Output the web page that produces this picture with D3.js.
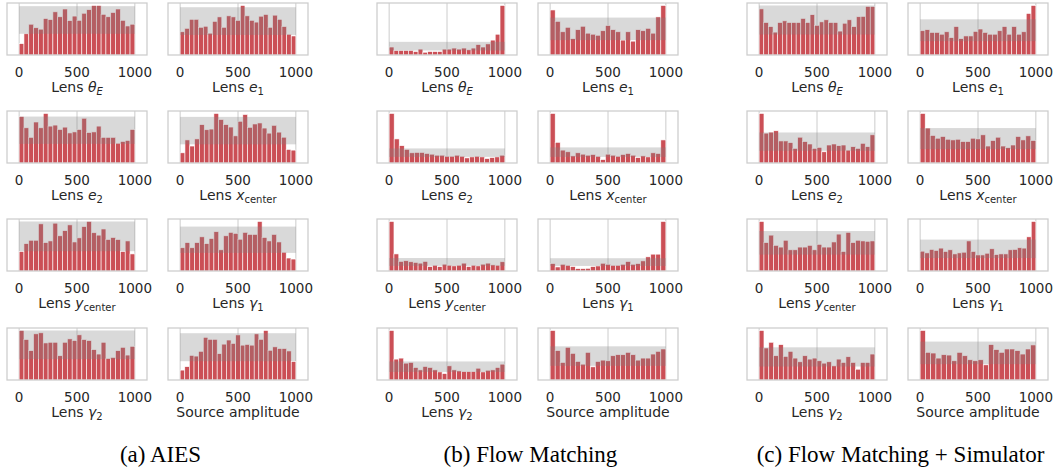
<!DOCTYPE html>
<html lang="en">
<head>
<meta charset="UTF-8"/>
<title>SBC rank histograms</title>
<script src="https://d3js.org/d3.v7.min.js"></script>
<style>
  body { margin: 0; background: #fff; }
</style>
</head>
<body>
<script>
// rank histogram counts per panel (bins span ranks 0..1000)
// (a) AIES
var aiesThetaE = [32,60,87,77,73,103,100,122,108,130,97,110,98,118,128,140,140,115,108,120,130,98,82,87];
var aiesE1     = [67,77,103,103,80,83,63,97,110,80,113,110,100,143,113,100,95,112,117,80,115,103,82,60,55];
var aiesE2     = [136,103,75,120,103,145,108,111,98,105,88,91,98,131,89,91,108,75,75,75,58,63,66,98];
var aiesXc     = [30,68,50,71,113,98,100,146,128,113,106,80,123,143,105,115,118,103,88,111,91,76,40,38];
var aiesYc     = [57,80,90,90,138,83,88,140,103,118,135,85,97,130,145,112,105,123,92,98,92,57,88,50];
var aiesG1     = [68,83,68,83,100,80,95,115,62,103,113,110,93,113,107,107,145,98,88,107,85,55,38,35];
var aiesG2     = [147,120,87,137,140,110,112,112,72,112,122,117,134,120,117,90,77,112,64,67,87,97,74,100];
var aiesAmp    = [29,39,72,70,84,125,119,119,77,105,117,107,132,102,104,102,135,119,145,87,97,92,92,85,54];
var aiesBands  = [[60,138],[58,138],[56,136],[55,136],[58,145],[53,130],[62,147],[55,137]];

// (b) Flow Matching
var fmThetaE = [23,13,13,13,13,10,17,8,10,10,10,17,17,20,17,20,15,20,30,23,32,43,60,143];
var fmE1     = [130,97,67,80,47,73,83,63,60,57,70,85,73,67,43,67,40,73,70,77,63,110,143];
var fmE2     = [146,71,51,40,30,31,31,28,26,23,23,20,20,23,20,15,18,20,18,13,16,18,23];
var fmXc     = [146,61,38,33,21,30,26,23,25,20,10,26,23,20,25,28,23,16,21,18,30,28,68];
var fmYc     = [145,50,28,30,27,25,23,28,13,17,13,20,17,15,17,23,13,17,15,20,23,18,17,27];
var fmG1     = [22,12,20,17,13,7,7,8,13,15,23,20,17,17,20,28,20,22,30,42,50,50,147];
var fmG2     = [147,62,65,50,52,37,30,40,37,30,24,19,42,30,27,25,25,25,35,24,29,30,37,47];
var fmAmp    = [147,87,52,97,79,55,47,82,39,55,59,57,72,75,75,82,75,59,65,65,77,85,92];
var fmBands  = [[13,38],[43,108],[18,43],[18,46],[15,38],[15,38],[24,55],[42,100]];

// (c) Flow Matching + Simulator
var fmsThetaE = [135,95,83,67,95,100,95,95,95,107,95,118,87,97,103,95,95,70,93,103,83,112,113,142,142];
var fmsE1     = [70,73,65,65,60,67,50,82,47,55,55,68,75,65,60,60,70,82,60,82,60,67,120,143];
var fmsE2     = [146,88,91,95,65,65,60,43,76,63,56,43,46,33,53,56,51,53,38,48,43,58,48,83];
var fmsXc     = [146,103,81,73,78,70,68,70,63,63,73,71,83,50,66,76,50,45,53,78,68,80,66];
var fmsYc     = [145,83,105,75,70,90,62,62,70,70,75,62,78,70,70,85,108,57,113,83,90,88,87,88];
var fmsG1     = [58,53,63,60,67,57,62,50,53,55,88,57,47,47,52,65,48,50,50,62,63,68,67,100,145];
var fmsG2     = [147,95,112,72,105,70,85,65,54,72,62,65,57,50,54,42,62,52,69,52,32,52,52,77];
var fmsAmp    = [147,82,80,65,75,74,57,82,72,60,57,60,45,105,90,82,92,92,87,77,92,104];
var fmsBands  = [[60,145],[40,103],[36,90],[41,103],[48,117],[38,92],[40,97],[47,114]];

var captions = ["(a) AIES", "(b) Flow Matching", "(c) Flow Matching + Simulator"];
var xTicks = [0, 500, 1000];

// axis labels: [text, style] pieces; i = italic, s = subscript, si = italic subscript
var paramLabels = [
    [["Lens ", "n"], ["\u03b8", "i"], ["E", "si"]],
    [["Lens ", "n"], ["e", "i"], ["1", "s"]],
    [["Lens ", "n"], ["e", "i"], ["2", "s"]],
    [["Lens ", "n"], ["x", "i"], ["center", "s"]],
    [["Lens ", "n"], ["y", "i"], ["center", "s"]],
    [["Lens ", "n"], ["\u03b3", "i"], ["1", "s"]],
    [["Lens ", "n"], ["\u03b3", "i"], ["2", "s"]],
    [["Source amplitude", "n"]]
];

var groupData = [
    [aiesThetaE, aiesE1, aiesE2, aiesXc, aiesYc, aiesG1, aiesG2, aiesAmp],
    [fmThetaE, fmE1, fmE2, fmXc, fmYc, fmG1, fmG2, fmAmp],
    [fmsThetaE, fmsE1, fmsE2, fmsXc, fmsYc, fmsG1, fmsG2, fmsAmp]
];
var groupBands = [aiesBands, fmBands, fmsBands];

var w = 1057, h = 472;
var panelW = 140, panelH = 52;
var groupStep = 370;
var colX = [7, 168];
var rowY = [3, 111, 219, 328];

var svg = d3.select("body").append("svg")
    .attr("width", w)
    .attr("height", h)
    .style("font-family", "DejaVu Sans, sans-serif");

groupData.forEach(function(series, g) {
    series.forEach(function(counts, k) {
        var row = Math.floor(k / 2), col = k % 2;
        var x0 = colX[col] + g * groupStep;
        var y0 = rowY[row];
        var band = groupBands[g][k];

        var xScale = d3.scaleLinear().domain([-105, 1105]).range([x0, x0 + panelW]);
        var ymax = Math.max(d3.max(counts), band[1]) * 1.05;
        var yScale = d3.scaleLinear().domain([0, ymax]).range([y0 + panelH, y0]);

        var p = svg.append("g");
        var binW = 1000 / counts.length;

        // vertical grid
        p.selectAll("line.grid")
            .data(xTicks)
            .enter().append("line")
            .attr("class", "grid")
            .attr("x1", function(d) { return xScale(d); })
            .attr("x2", function(d) { return xScale(d); })
            .attr("y1", y0)
            .attr("y2", y0 + panelH)
            .attr("stroke", "#cccccc")
            .attr("stroke-width", 1);

        // bars
        p.selectAll("rect.bar")
            .data(counts)
            .enter().append("rect")
            .attr("class", "bar")
            .attr("x", function(d, i) { return xScale(i * binW); })
            .attr("width", function(d, i) { return xScale((i + 1) * binW) - xScale(i * binW); })
            .attr("y", function(d) { return yScale(d); })
            .attr("height", function(d) { return yScale(0) - yScale(d); })
            .attr("fill", "#c8464d")
            .attr("fill-opacity", 0.95)
            .attr("stroke", "#ffffff")
            .attr("stroke-width", 0.6);

        // expected-uniform band
        p.append("rect")
            .attr("x", xScale(0))
            .attr("width", xScale(1000) - xScale(0))
            .attr("y", yScale(band[1]))
            .attr("height", yScale(band[0]) - yScale(band[1]))
            .attr("fill", "#808080")
            .attr("fill-opacity", 0.3);

        // frame
        p.append("rect")
            .attr("x", x0)
            .attr("y", y0)
            .attr("width", panelW)
            .attr("height", panelH)
            .attr("fill", "none")
            .attr("stroke", "#cccccc")
            .attr("stroke-width", 1.25);

        // tick labels
        p.selectAll("text.tick")
            .data(xTicks)
            .enter().append("text")
            .attr("class", "tick")
            .attr("x", function(d) { return xScale(d); })
            .attr("y", y0 + panelH + 22)
            .attr("text-anchor", "middle")
            .attr("font-size", 13.5)
            .attr("fill", "#262626")
            .text(function(d) { return d; });

        // axis label
        var lab = p.append("text")
            .attr("x", x0 + panelW / 2)
            .attr("y", y0 + panelH + 37)
            .attr("text-anchor", "middle")
            .attr("font-size", 14)
            .attr("fill", "#262626");
        paramLabels[k].forEach(function(part) {
            var t = lab.append("tspan").text(part[0]);
            if (part[1] == "i" || part[1] == "si") t.style("font-style", "italic");
            if (part[1] == "s" || part[1] == "si") t.attr("dy", 3).attr("font-size", 10);
        });
    });

    // group caption
    svg.append("text")
        .attr("x", colX[0] + g * groupStep + (colX[1] + panelW - colX[0]) / 2 + 3)
        .attr("y", 462)
        .attr("text-anchor", "middle")
        .attr("font-family", "Liberation Serif, Times New Roman, serif")
        .attr("font-size", 23)
        .attr("fill", "#000")
        .text(captions[g]);
});
</script>
</body>
</html>
